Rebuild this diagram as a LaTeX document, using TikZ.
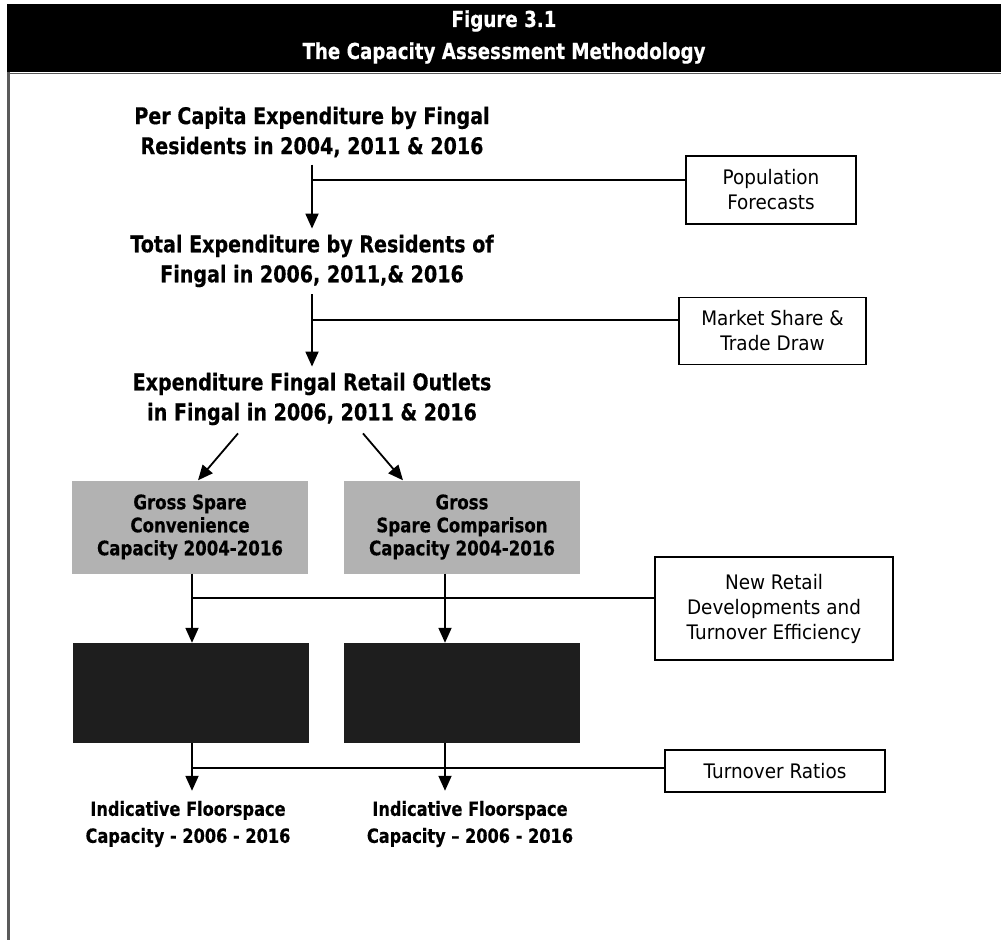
\documentclass[tikz,border=0pt]{standalone}
\usepackage{fontspec}
\setmainfont{DejaVu Sans}[FakeStretch=0.92]
\newfontfamily\headfont{DejaVu Sans}[Ligatures=TeX,FakeStretch=0.83,BoldFeatures={FakeBold=0.4}]
\usetikzlibrary{arrows.meta,calc}
\definecolor{grossfill}{HTML}{B2B2B2}
\definecolor{netfill}{HTML}{1E1E1E}
\definecolor{framegray}{HTML}{5A5A5A}
\begin{document}
\begin{tikzpicture}[x=1pt,y=-1pt,
  heading/.style={align=center,font=\headfont\bfseries\fontsize{23}{30}\selectfont,inner sep=0pt},
  sidebox/.style={draw,line width=1.6pt,align=center,font=\fontsize{20}{25}\selectfont,inner sep=0pt},
  grossbox/.style={fill=grossfill,minimum width=236pt,minimum height=93pt,inner sep=0pt,align=center,
    font=\headfont\bfseries\fontsize{20}{23}\selectfont},
  netbox/.style={fill=netfill,minimum width=236pt,minimum height=100pt,inner sep=0pt},
  result/.style={align=center,font=\headfont\bfseries\fontsize{19.5}{27}\selectfont,inner sep=0pt},
  link/.style={line width=1.8pt},
  arr/.style={line width=1.8pt,-{Triangle[width=13pt,length=15pt]}}]
\useasboundingbox (0,0) rectangle (1003,940);

% title band and frame
\fill[black] (7,4) rectangle (1001,72);
\draw[framegray,line width=1.5pt] (7,73.5) -- (1001,73.5);
\draw[framegray,line width=2.5pt] (8.5,72) -- (8.5,940);
\node[text=white,align=center,font=\headfont\bfseries\fontsize{22}{32}\selectfont] (title) at (504,37)
  {Figure 3.1\\The Capacity Assessment Methodology};

% main chain of headings
\node[heading] (h1) at (312,132) {Per Capita Expenditure by Fingal\\Residents in 2004, 2011 \& 2016};
\node[heading] (h2) at (312,261) {Total Expenditure by Residents of\\Fingal in 2006, 2011,\& 2016};
\node[heading] (h3) at (312,399) {Expenditure Fingal Retail Outlets\\in Fingal in 2006, 2011 \& 2016};

% side inputs
\node[sidebox,minimum width=170pt,minimum height=68pt] (pop) at (771,190) {Population\\Forecasts};
\node[sidebox,minimum width=187pt,minimum height=67pt] (mkt) at (772.5,331) {Market Share \&\\Trade Draw};
\node[sidebox,minimum width=238pt,minimum height=103pt] (nrd) at (774,608.5) {New Retail\\Developments and\\Turnover Efficiency};
\node[sidebox,minimum width=220pt,minimum height=42pt] (tor) at (775,771) {Turnover Ratios};

% capacity boxes
\node[grossbox] (g1) at (190,527) {Gross Spare\\Convenience\\Capacity 2004-2016};
\node[grossbox] (g2) at (462,527) {Gross\\Spare Comparison\\Capacity 2004-2016};
\node[netbox] (n1) at (191,693) {};
\node[netbox] (n2) at (462,693) {};

% results
\node[result] (r1) at (188,824) {Indicative Floorspace\\Capacity - 2006 - 2016};
\node[result] (r2) at (470,824) {Indicative Floorspace\\Capacity \textendash\ 2006 - 2016};

% connectors
\draw[arr,shorten <=7pt,shorten >=6pt] (h1.south) -- (h2.north);
\draw[link] ([yshift=10pt]pop.west) -- ([yshift=10pt]pop.west -| h1.south);
\draw[arr,shorten <=7pt,shorten >=6pt] (h2.south) -- (h3.north);
\draw[link] ([yshift=11pt]mkt.west) -- ([yshift=11pt]mkt.west -| h2.south);

\draw[arr] ($(h3.south)+(-74,8)$) -- ($(g1.north)+(8,0)$);
\draw[arr] ($(h3.south)+(51,8)$) -- ($(g2.north)+(-59,0)$);

\draw[arr] ([xshift=2pt]g1.south) -- ([xshift=1pt]n1.north);
\draw[arr] ([xshift=-17pt]g2.south) -- ([xshift=-17pt]n2.north);
\draw[link] ([yshift=10.5pt]nrd.west) -- ([yshift=10.5pt]nrd.west -| n1.north);

\draw[arr,shorten >=10pt] ([xshift=1pt]n1.south) -- ([xshift=1pt]n1.south |- r1.north);
\draw[arr,shorten >=10pt] ([xshift=-17pt]n2.south) -- ([xshift=-17pt]n2.south |- r2.north);
\draw[link] ([yshift=3pt]tor.west) -- ([yshift=3pt]tor.west -| n1.south);
\end{tikzpicture}
\end{document}
